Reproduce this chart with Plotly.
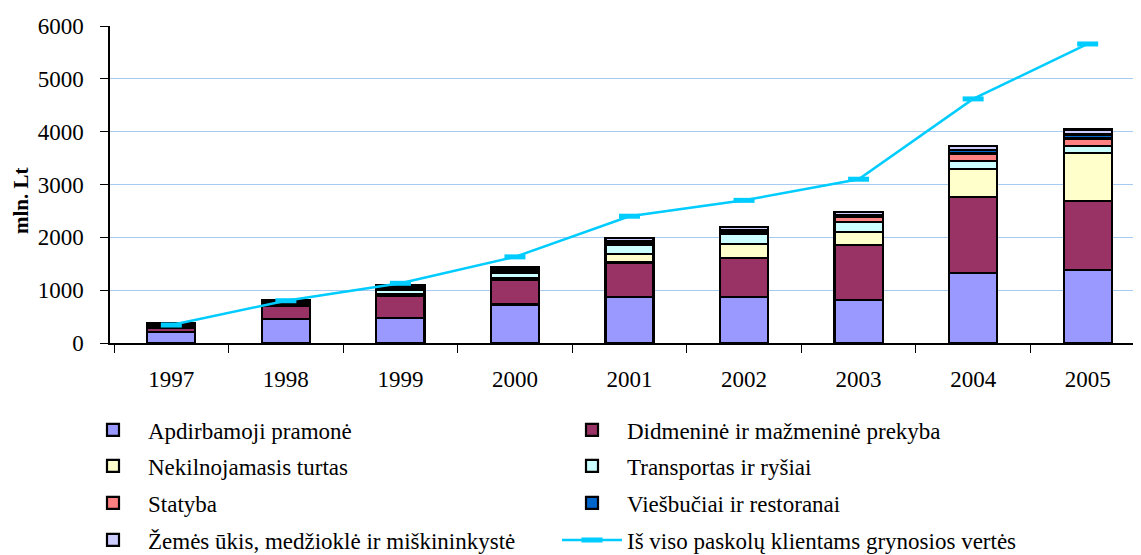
import plotly.graph_objects as go

years = ["1997", "1998", "1999", "2000", "2001", "2002", "2003", "2004", "2005"]

apdirbamoji = [210, 455, 473, 730, 870, 865, 820, 1325, 1388]
didmenine = [80, 250, 422, 470, 655, 737, 1036, 1433, 1294]
nekilnojamasis = [15, 20, 40, 25, 160, 273, 240, 537, 916]
transportas = [20, 20, 70, 100, 170, 182, 190, 145, 126]
statyba = [10, 15, 20, 30, 40, 40, 100, 145, 146]
viesbuciai = [15, 15, 20, 25, 35, 35, 30, 63, 75]
zemes = [30, 30, 45, 50, 60, 58, 58, 76, 95]
is_viso = [340, 800, 1130, 1630, 2400, 2700, 3100, 4620, 5660]

names = [
    "Apdirbamoji pramonė",
    "Didmeninė ir mažmeninė prekyba",
    "Nekilnojamasis turtas",
    "Transportas ir ryšiai",
    "Statyba",
    "Viešbučiai ir restoranai",
    "Žemės ūkis, medžioklė ir miškininkystė",
    "Iš viso paskolų klientams grynosios vertės",
]
series = [apdirbamoji, didmenine, nekilnojamasis, transportas, statyba, viesbuciai, zemes]
colors = ["#9999FF", "#993366", "#FFFFCC", "#CCFFFF", "#FF8080", "#0066CC", "#CCCCFF"]
legend_ids = ["legend", "legend", "legend2", "legend2", "legend3", "legend3", "legend4"]

FONT = "Times New Roman, Liberation Serif, DejaVu Serif, serif"
FS = 23
OFF = 8  # browser body margin

fig = go.Figure()
for vals, nm, col, lg in zip(series, names, colors, legend_ids):
    fig.add_trace(go.Bar(
        x=years, y=vals, name=nm, legend=lg,
        marker=dict(color=col, line=dict(color="black", width=2.2)),
    ))

fig.add_trace(go.Scatter(
    x=years, y=is_viso, name=names[7], legend="legend4", mode="lines+markers",
    line=dict(color="#00CCFF", width=2.5),
    marker=dict(symbol="line-ew", size=15, line=dict(color="#00CCFF", width=5), color="#00CCFF"),
))

H = 555
leg_common = dict(
    orientation="h", xref="container", yref="container", x=(78 - OFF) / 1141, xanchor="left",
    yanchor="middle", entrywidth=404, entrywidthmode="pixels",
    font=dict(family=FONT, size=FS, color="black"), bgcolor="rgba(0,0,0,0)",
    itemwidth=60, traceorder="normal",
)
rows_y = [430, 466, 503, 540]
fig.update_layout(
    width=1141, height=H,
    margin=dict(l=110 - OFF, r=0, t=26 - OFF, b=212 + OFF),
    plot_bgcolor="white", paper_bgcolor="white",
    barmode="stack", bargap=0.58,
    font=dict(family=FONT, size=FS, color="black"),
    legend=dict(leg_common, y=1 - (rows_y[0] - OFF) / H),
    legend2=dict(leg_common, y=1 - (rows_y[1] - OFF) / H),
    legend3=dict(leg_common, y=1 - (rows_y[2] - OFF) / H),
    legend4=dict(leg_common, y=1 - (rows_y[3] - OFF) / H),
    xaxis=dict(
        showline=True, linecolor="black", linewidth=1.5, ticks="outside",
        tickson="boundaries", ticklen=8, tickcolor="black", ticklabelstandoff=15,
        tickfont=dict(family=FONT, size=FS), showgrid=False,
    ),
    yaxis=dict(
        range=[0, 6000], dtick=1000, showline=True, linecolor="black", linewidth=1.5,
        ticks="outside", ticklen=8, tickcolor="black", showgrid=True, ticklabelstandoff=12,
        gridcolor="#A6CAF0", gridwidth=1, zeroline=False,
        tickfont=dict(family=FONT, size=FS),
    ),
    annotations=[dict(
        text="<b>mln. Lt</b>", textangle=-90, xref="paper", yref="paper",
        x=-0.085, y=0.45, xanchor="center", yanchor="middle", showarrow=False,
        font=dict(family=FONT, size=21, color="black"),
    )],
)

fig.write_html("out.html")
